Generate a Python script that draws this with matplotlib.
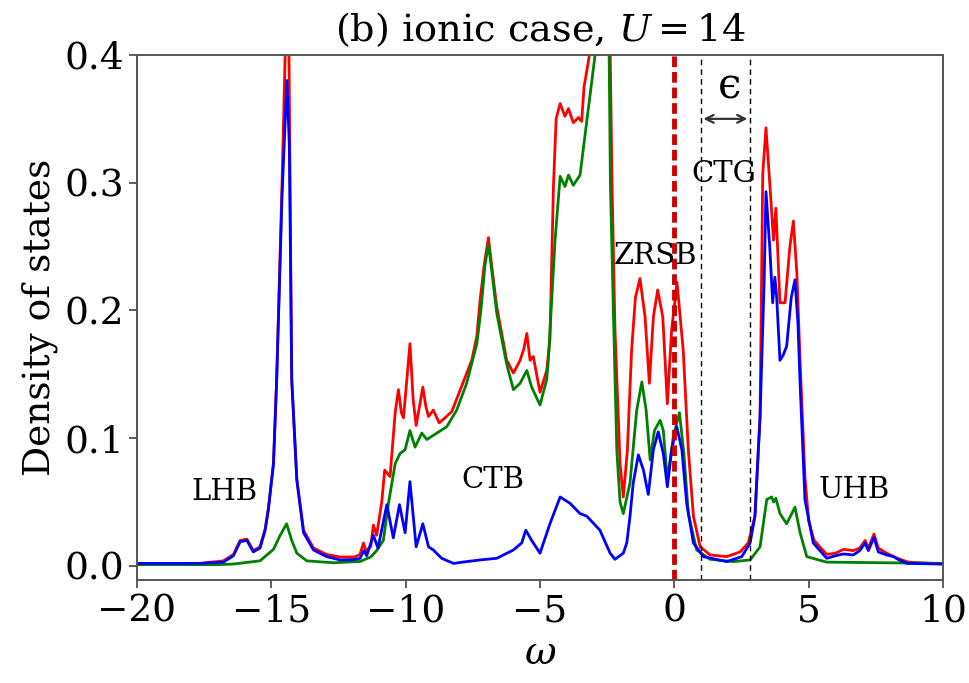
import matplotlib
matplotlib.use('Agg')
import matplotlib.pyplot as plt

plt.rcParams['font.family'] = 'DejaVu Serif'
plt.rcParams['mathtext.fontset'] = 'dejavuserif'

# values
w_red = [-20, -18.5, -17.65, -16.78, -16.41, -16.16, -15.91, -15.67, -15.42, -15.23, -15.11,
         -14.92, -14.80, -14.6, -14.45, -14.35, -14.24, -14.05, -13.80, -13.43, -12.94, -12.44,
         -11.9, -11.70, -11.57, -11.48, -11.30, -11.20, -11.08, -10.89, -10.78, -10.70, -10.58,
         -10.39, -10.27, -10.16, -10.08, -9.84, -9.72, -9.61, -9.36, -9.25, -9.15, -8.97, -8.75,
         -8.53, -8.28, -8.04, -7.73, -7.54, -7.35, -7.23, -7.08, -6.92, -6.78, -6.61, -6.24,
         -5.99, -5.74, -5.60, -5.49, -5.37, -5.25, -5.0, -4.75, -4.63, -4.50, -4.40, -4.25,
         -4.07, -3.94, -3.76, -3.57, -3.45, -3.36, -3.16, -2.75, -2.42, -2.32, -2.21, -2.02,
         -1.90, -1.75, -1.59, -1.45, -1.28, -1.09, -0.93, -0.78, -0.62, -0.43, -0.26, -0.1,
         0.1, 0.33, 0.52, 0.71, 0.96, 1.33, 1.95, 2.45, 2.75, 3.0, 3.19, 3.29, 3.41, 3.55,
         3.69, 3.78, 3.93, 4.12, 4.30, 4.43, 4.56, 4.68, 4.86, 5.0, 5.2, 5.67, 6.0, 6.3, 6.66,
         6.9, 7.10, 7.22, 7.43, 7.59, 7.9, 8.3, 8.7, 10]
dos_red = [0.002, 0.002, 0.002, 0.004, 0.009, 0.02, 0.021, 0.012, 0.015, 0.029, 0.045,
           0.08, 0.146, 0.30, 0.43, 0.42, 0.146, 0.068, 0.028, 0.014, 0.009, 0.007,
           0.007, 0.009, 0.018, 0.012, 0.015, 0.032, 0.024, 0.05, 0.075, 0.073, 0.07,
           0.12, 0.138, 0.12, 0.116, 0.174, 0.13, 0.11, 0.14, 0.125, 0.117, 0.122, 0.112,
           0.116, 0.121, 0.134, 0.151, 0.161, 0.18, 0.208, 0.235, 0.257, 0.232, 0.203, 0.161,
           0.151, 0.161, 0.17, 0.182, 0.161, 0.164, 0.136, 0.153, 0.177, 0.297, 0.35, 0.362,
           0.352, 0.358, 0.347, 0.351, 0.348, 0.375, 0.40, 0.60, 0.45, 0.30, 0.185, 0.08,
           0.054, 0.09, 0.169, 0.21, 0.225, 0.195, 0.143, 0.195, 0.216, 0.195, 0.127, 0.185,
           0.222, 0.169, 0.091, 0.039, 0.015, 0.0086, 0.0073, 0.011, 0.018, 0.039, 0.117, 0.307,
           0.343, 0.30, 0.255, 0.28, 0.206, 0.206, 0.25, 0.27, 0.229, 0.16, 0.07, 0.035, 0.02,
           0.009, 0.01, 0.013, 0.012, 0.014, 0.02, 0.014, 0.025, 0.014, 0.01, 0.006, 0.003,
           0.0015]

w_green = [-20, -17, -16.41, -15.42, -14.92, -14.67, -14.43, -14.24, -14.05, -13.68, -12.69,
           -11.70, -11.3, -11.08, -10.83, -10.64, -10.39, -10.21, -10.02, -9.84, -9.65, -9.40,
           -9.21, -8.84, -8.47, -8.10, -7.73, -7.35, -7.2, -7.05, -6.92, -6.8, -6.61, -6.24,
           -5.99, -5.74, -5.49, -5.31, -5.0, -4.75, -4.69, -4.44, -4.25, -4.07, -3.94, -3.76,
           -3.51, -2.95, -2.65, -2.45, -2.38, -2.27, -2.14, -2.02, -1.90, -1.65, -1.40, -1.21,
           -1.05, -0.90, -0.74, -0.53, -0.41, -0.26, -0.04, 0.19, 0.36, 0.52, 0.83, 1.33, 2.2,
           2.82, 3.19, 3.44, 3.62, 3.7, 3.78, 3.93, 4.18, 4.49, 4.68, 4.93, 5.67, 10]
dos_green = [0.001, 0.001, 0.0015, 0.004, 0.013, 0.024, 0.033, 0.02, 0.01, 0.004, 0.0025,
             0.0035, 0.007, 0.012, 0.02, 0.049, 0.08, 0.088, 0.091, 0.106, 0.093, 0.104,
             0.099, 0.104, 0.109, 0.122, 0.143, 0.174, 0.2, 0.235, 0.252, 0.232, 0.198, 0.158,
             0.138, 0.143, 0.153, 0.14, 0.126, 0.146, 0.161, 0.255, 0.305, 0.297, 0.306, 0.298,
             0.306, 0.40, 0.55, 0.45, 0.30, 0.20, 0.09, 0.05, 0.041, 0.065, 0.122, 0.144,
             0.122, 0.083, 0.106, 0.114, 0.106, 0.067, 0.101, 0.12, 0.087, 0.041, 0.0125, 0.0052,
             0.0034, 0.0047, 0.015, 0.052, 0.054, 0.05, 0.053, 0.041, 0.033, 0.046, 0.026,
             0.0073, 0.003, 0.002]

w_blue = [-20, -17.65, -16.78, -16.41, -16.16, -15.91, -15.67, -15.42, -15.23, -15.11, -14.92,
          -14.80, -14.6, -14.42, -14.33, -14.24, -14.05, -13.80, -13.43, -12.94, -12.44, -11.9,
          -11.70, -11.55, -11.45, -11.20, -11.03, -10.70, -10.46, -10.23, -10.02, -9.84, -9.61,
          -9.36, -9.15, -8.97, -8.66, -8.22, -7.73, -7.23, -6.61, -5.99, -5.68, -5.53, -5.31,
          -5.0, -4.63, -4.25, -3.88, -3.51, -3.26, -2.77, -2.39, -2.21, -1.90, -1.77, -1.65,
          -1.53, -1.34, -1.15, -0.97, -0.78, -0.60, -0.41, -0.26, -0.10, 0.09, 0.28, 0.46,
          0.71, 1.08, 1.95, 2.51, 2.82, 3.0, 3.19, 3.34, 3.41, 3.55, 3.66, 3.74, 3.81, 3.93,
          4.05, 4.18, 4.35, 4.49, 4.6, 4.68, 4.86, 5.17, 5.67, 6.0, 6.29, 6.66, 6.9, 7.10,
          7.22, 7.43, 7.59, 7.9, 8.15, 8.34, 8.65, 10]
dos_blue = [0.002, 0.002, 0.003, 0.008, 0.019, 0.020, 0.011, 0.014, 0.028, 0.044, 0.08,
            0.146, 0.29, 0.38, 0.33, 0.146, 0.067, 0.026, 0.0125, 0.0073, 0.0047, 0.005,
            0.006, 0.012, 0.008, 0.024, 0.014, 0.048, 0.022, 0.048, 0.026, 0.066, 0.015,
            0.033, 0.015, 0.0125, 0.006, 0.002, 0.0034, 0.0047, 0.006, 0.0125, 0.018, 0.028, 0.020,
            0.01, 0.033, 0.054, 0.049, 0.041, 0.039, 0.028, 0.01, 0.0052, 0.01, 0.018, 0.039,
            0.065, 0.087, 0.075, 0.056, 0.091, 0.105, 0.088, 0.062, 0.091, 0.109, 0.091, 0.049,
            0.018, 0.0073, 0.0034, 0.0073, 0.018, 0.039, 0.117, 0.221, 0.293, 0.25, 0.206, 0.226,
            0.21, 0.161, 0.165, 0.172, 0.21, 0.224, 0.19, 0.143, 0.052, 0.018, 0.006, 0.008,
            0.0094, 0.0086, 0.012, 0.018, 0.012, 0.0225, 0.011, 0.0086, 0.0073, 0.005, 0.002,
            0.0015]

gap_edges = [1.0, 2.8]
band_labels = ['LHB', 'CTB', 'ZRSB', 'CTG', 'UHB']
band_x = [-16.76, -6.77, -0.69, 1.85, 6.69]
band_y = [0.058, 0.067, 0.243, 0.307, 0.0595]

fig = plt.figure(figsize=(9.7, 6.83), dpi=100)
ax = fig.add_axes([0.1412, 0.1508, 0.8310, 0.7687])

ax.plot(w_red, dos_red, color='#ff0000', lw=2.0)
ax.plot(w_green, dos_green, color='#008000', lw=2.0)
ax.plot(w_blue, dos_blue, color='#0000ff', lw=2.0)

ax.axvline(0, color='#cc0000', lw=3.5, ls=(0, (2.2, 1.0)))
for e in gap_edges:
    ax.axvline(e, color='black', lw=1.0, ls=(0, (4, 3)))

ax.annotate('', xy=(gap_edges[0] + 0.08, 0.35), xytext=(gap_edges[1] - 0.08, 0.35),
            arrowprops=dict(arrowstyle='<->', color='#333333', lw=1.6,
                            shrinkA=0, shrinkB=0, mutation_scale=14))
ax.text(2.07, 0.375, '\u03f5', fontsize=30, ha='center', va='center',
        family=['DejaVu Serif', 'DejaVu Sans'])

for lab, x, y in zip(band_labels, band_x, band_y):
    ax.text(x, y, lab, fontsize=21, ha='center', va='center')

ax.set_xlim(-20, 10)
ax.set_ylim(-0.011, 0.4)
ax.set_xticks([-20, -15, -10, -5, 0, 5, 10])
ax.set_yticks([0.0, 0.1, 0.2, 0.3, 0.4])
ax.set_yticklabels(['0.0', '0.1', '0.2', '0.3', '0.4'])
ax.tick_params(labelsize=27, length=6, width=1.2, color='#444444')
for s in ax.spines.values():
    s.set_linewidth(1.4)
    s.set_color('#555555')

ax.set_xlabel(r'$\omega$', fontsize=28)
ax.set_ylabel('Density of states', fontsize=27)
ax.set_title(r'(b) ionic case, $U = 14$', fontsize=27.5, pad=10)

fig.savefig('out.png', dpi=100)
